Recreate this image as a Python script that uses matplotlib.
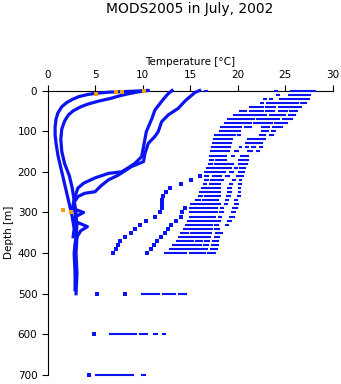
import matplotlib
matplotlib.use("Agg")
import matplotlib.pyplot as plt

BLUE = '#0a14f0'
ORANGE = '#f0a010'

# standard-level casts: depth [m] and the temperature runs [degC] seen at each level
level_depths = [0, 10, 20, 30, 40, 50, 60, 70, 80, 90, 100, 110, 120, 130, 140, 150,
                160, 170, 180, 190, 200, 210, 220, 230, 240, 250, 260, 270, 280, 290,
                300, 310, 320, 330, 340, 350, 360, 370, 380, 390, 400, 500, 600, 700]
level_runs = [
    [(16.55, 16.75), (23.9, 24.1), (25.6, 28.1)],
    [(24.1, 24.3), (25.4, 27.6)],
    [(22.8, 23.0), (23.4, 23.6), (24.5, 27.1), (27.2, 27.5)],
    [(22.5, 22.7), (23.1, 24.1), (24.3, 26.4), (26.7, 27.2)],
    [(21.3, 22.1), (22.3, 22.7), (23.0, 23.9), (24.3, 25.2), (25.4, 26.1), (26.4, 26.7)],
    [(20.2, 20.9), (21.3, 22.7), (23.0, 23.8), (24.3, 25.2), (25.5, 26.2)],
    [(19.6, 21.7), (21.9, 22.2), (22.3, 23.0), (23.4, 24.1), (24.4, 25.0), (25.4, 26.0)],
    [(19.0, 21.7), (22.0, 22.5), (22.7, 24.4), (24.8, 25.7)],
    [(18.7, 21.4), (21.7, 22.5), (22.7, 23.6), (23.9, 25.2)],
    [(18.3, 20.4), (20.8, 21.4), (22.6, 23.3), (23.7, 24.1), (24.3, 24.7)],
    [(18.1, 20.3), (22.6, 23.2), (23.6, 23.9)],
    [(17.6, 19.7), (20.0, 20.2), (22.3, 22.9), (23.4, 23.7)],
    [(17.5, 19.4), (21.1, 22.9)],
    [(17.4, 19.3), (20.9, 21.4), (21.6, 22.6)],
    [(17.3, 19.2), (20.2, 20.4), (20.9, 21.1), (21.5, 21.8), (22.3, 22.6)],
    [(17.2, 17.6), (17.8, 19.1), (19.7, 20.0), (21.1, 21.5), (22.0, 22.2)],
    [(17.1, 17.6), (17.8, 18.8), (19.4, 19.6), (20.4, 21.1)],
    [(17.1, 17.4), (17.7, 18.8), (20.1, 21.1)],
    [(17.0, 17.3), (17.6, 19.0), (19.2, 19.5), (20.1, 21.0)],
    [(16.8, 17.3), (17.5, 18.8), (19.0, 19.3), (19.7, 19.9), (20.2, 20.8)],
    [(16.6, 16.8), (16.9, 17.2), (17.4, 18.7), (19.2, 19.5), (20.1, 20.7)],
    [(16.6, 16.9), (17.4, 18.3), (18.8, 19.1), (19.9, 20.1), (20.2, 20.6)],
    [(16.6, 16.9), (17.2, 18.5), (19.5, 19.7), (20.2, 20.4)],
    [(16.5, 16.7), (17.1, 18.1), (19.2, 19.4), (20.1, 20.4)],
    [(16.3, 16.6), (16.8, 18.1), (19.0, 19.3), (20.1, 20.3)],
    [(16.0, 18.1), (19.0, 19.3), (20.1, 20.2)],
    [(15.9, 16.3), (16.6, 17.1), (17.3, 18.1), (18.9, 19.2), (20.0, 20.2)],
    [(15.6, 16.0), (16.4, 17.4), (17.5, 17.9), (18.8, 19.0), (19.7, 19.9)],
    [(15.1, 15.4), (15.6, 18.1), (18.7, 18.9), (19.7, 20.0)],
    [(15.0, 17.1), (17.3, 17.8), (18.3, 18.5), (19.5, 19.9)],
    [(15.0, 16.0), (16.1, 17.8), (18.1, 18.5), (19.4, 19.7)],
    [(15.0, 15.7), (15.9, 17.6), (18.0, 18.3), (19.2, 19.6)],
    [(14.8, 17.6), (17.8, 18.1), (19.0, 19.3)],
    [(14.6, 17.3), (17.6, 17.9), (18.8, 19.0)],
    [(14.4, 17.3), (17.6, 18.0)],
    [(14.0, 14.3), (14.5, 14.8), (15.1, 17.2), (17.7, 18.0), (18.1, 18.4)],
    [(13.8, 14.6), (14.8, 15.6), (15.8, 16.6), (16.7, 17.1), (17.6, 18.0)],
    [(13.6, 14.5), (14.6, 15.3), (15.6, 16.3), (16.6, 17.0), (17.4, 17.9)],
    [(13.2, 14.3), (14.4, 16.1), (16.5, 16.9), (17.3, 17.9)],
    [(12.9, 13.3), (13.5, 14.9), (15.1, 16.0), (16.2, 16.8), (17.2, 17.8)],
    [(12.4, 12.9), (13.1, 13.4), (13.5, 14.6), (15.0, 15.9), (16.0, 16.6), (16.9, 17.6)],
    [(9.9, 11.7), (12.1, 13.4), (13.8, 14.1), (14.3, 14.6)],
    [(6.6, 6.9), (7.0, 7.3), (7.5, 9.3), (9.7, 10.5), (11.2, 11.5), (12.2, 12.4)],
    [(5.1, 5.4), (5.6, 7.0), (7.1, 7.4), (7.6, 8.2), (8.4, 9.0), (9.9, 10.3)],
]

# two isolated standard-level casts on the cold side of the cluster
cast1_depth = [210, 220, 230, 240, 250, 260, 270, 280, 290, 300, 310, 320, 330, 340,
               350, 360, 370, 380, 390, 400, 500, 600, 700]
cast1_temp = [16.0, 15.1, 14.0, 12.9, 12.5, 12.2, 12.0, 12.0, 12.0, 11.8, 11.3, 10.4, 9.7, 9.2,
              8.8, 8.2, 7.6, 7.4, 7.2, 6.9, 5.2, 4.9, 4.4]
cast2_depth = [290, 300, 310, 320, 330, 340, 350, 360, 370, 380, 390, 400, 500]
cast2_temp = [14.45, 14.1, 14.0, 13.5, 13.0, 12.7, 12.4, 11.9, 11.5, 11.2, 10.9, 10.5, 8.1]

# high-resolution CTD casts
ctd_a_depth = [0, 2, 4, 7, 10, 15, 22, 30, 40, 55, 70, 90, 110, 130, 160, 190, 220, 250,
               280, 310, 340, 360]
ctd_a_temp = [10.6, 8.8, 6.5, 5.0, 4.2, 3.3, 2.6, 2.0, 1.5, 1.1, 0.9, 0.8, 0.8, 0.9, 1.1,
              1.4, 1.7, 2.0, 2.3, 2.6, 2.8, 2.7]
ctd_b_depth = [0, 4, 8, 13, 19, 26, 33, 40, 50, 60, 75, 95, 120, 150, 180, 210, 240, 270,
               300, 330, 360, 400, 450, 500]
ctd_b_temp = [10.4, 9.4, 8.5, 7.6, 6.7, 5.4, 4.3, 3.5, 2.7, 2.2, 1.8, 1.5, 1.4, 1.5, 1.8,
              2.3, 2.6, 2.8, 3.0, 3.0, 3.1, 3.0, 3.1, 3.0]
ctd_c_depth = [0, 10, 27, 48, 68, 101, 138, 163, 179, 190, 200, 204, 215, 228, 240, 260,
               280, 300, 330, 360, 400, 450, 490]
ctd_c_temp = [13.1, 12.6, 12.0, 11.3, 11.0, 10.4, 10.1, 9.9, 9.2, 8.5, 7.8, 6.4, 5.0, 3.8,
              3.2, 2.9, 2.7, 2.9, 3.1, 3.0, 2.8, 2.9, 2.9]
ctd_d_depth = [0, 5, 11, 25, 44, 60, 77, 101, 113, 130, 155, 175, 187, 208, 220, 235, 249,
               253, 261, 275, 290, 300, 310, 320, 335, 345, 360, 380, 400]
ctd_d_temp = [16.0, 15.5, 15.2, 14.5, 13.75, 12.7, 12.0, 11.65, 11.3, 10.6, 10.25, 10.1,
              8.85, 7.45, 6.4, 5.6, 5.0, 3.9, 3.2, 2.8, 2.6, 3.8, 3.0, 2.7, 4.2, 3.5, 3.1,
              2.9, 2.9]

# flagged values
flag_depth = [0.5, 3, 4.5, 9, 294, 298]
flag_temp = [10.1, 7.8, 7.2, 5.1, 1.6, 2.5]

fig = plt.figure(figsize=(3.41, 3.84), dpi=100)
ax = fig.add_axes([0.1393, 0.0234, 0.8364, 0.7409])

for d, t in [(ctd_a_depth, ctd_a_temp), (ctd_b_depth, ctd_b_temp),
             (ctd_c_depth, ctd_c_temp), (ctd_d_depth, ctd_d_temp)]:
    ax.plot(t, d, color=BLUE, linewidth=2.3, clip_on=False, zorder=3)

run_y, run_x0, run_x1 = [], [], []
for depth, runs in zip(level_depths, level_runs):
    for a, b in runs:
        run_y.append(depth)
        run_x0.append(a)
        run_x1.append(b)
ax.hlines(run_y, run_x0, run_x1, colors=BLUE, linewidth=1.5,
          capstyle='projecting', clip_on=False, zorder=3)

for d, t in [(cast1_depth, cast1_temp), (cast2_depth, cast2_temp)]:
    ax.plot(t, d, 's', color=BLUE, markersize=2.2, markeredgewidth=0,
            linestyle='none', clip_on=False, zorder=3)

ax.plot(flag_temp, flag_depth, 's', color=ORANGE, markersize=2.4, markeredgewidth=0,
        linestyle='none', clip_on=False, zorder=4)

ax.set_xlim(0, 30)
ax.set_ylim(700, 0)
ax.xaxis.tick_top()
ax.xaxis.set_label_position('top')
ax.set_xticks(range(0, 31, 5))
ax.set_yticks(range(0, 701, 100))
for side in ['right', 'bottom']:
    ax.spines[side].set_visible(False)
for side in ['left', 'top']:
    ax.spines[side].set_linewidth(0.8)
ax.tick_params(direction='out', length=4.3, width=0.8, labelsize=7.5, pad=3)
ax.set_xlabel('Temperature [°C]', fontsize=7.5, labelpad=4)
ax.set_ylabel('Depth [m]', fontsize=7.5, labelpad=3)

fig.text(0.557, 1 - 13 / 384, 'MODS2005 in July, 2002', ha='center', va='baseline',
         fontsize=10)

fig.savefig('out.png', dpi=100)
